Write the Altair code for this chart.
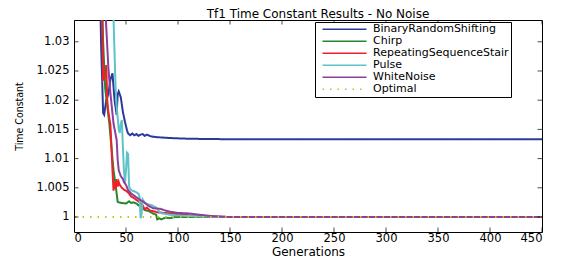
import altair as alt
import pandas as pd

series_names = ["BinaryRandomShifting", "Chirp", "RepeatingSequenceStair", "Pulse", "WhiteNoise", "Optimal"]
series_colors = ["#2b3a98", "#25882f", "#ec2228", "#5cc4c9", "#8c3f9c", "#c4c41e"]

brs_gen = [1, 24, 26, 28, 29, 31, 33, 35, 37, 39, 41, 42, 43, 45, 47, 49, 51, 52, 54, 56, 58, 60, 62, 64, 66, 68, 70, 74, 78, 85, 95, 110, 130, 160, 200, 260, 330, 400, 450]
brs_val = [1.2, 1.05, 1.03, 1.0178, 1.0175, 1.02, 1.021, 1.0235, 1.0246, 1.02, 1.0175, 1.021, 1.0215, 1.0205, 1.018, 1.0163, 1.0148, 1.0143, 1.014, 1.0143, 1.014, 1.0142, 1.0139, 1.0141, 1.0142, 1.0139, 1.0141, 1.0138, 1.0137, 1.0136, 1.0135, 1.0134, 1.01335, 1.0133, 1.0133, 1.0133, 1.0133, 1.0133, 1.0133]

chirp_gen = [1, 26, 28, 30, 32, 34, 36, 38, 40, 41, 42, 43, 46, 50, 53, 55, 57, 60, 62, 65, 68, 72, 76, 79, 80, 82, 84, 88, 92, 97, 110, 150, 450]
chirp_val = [1.3, 1.045, 1.03, 1.022, 1.019, 1.016, 1.012, 1.008, 1.0055, 1.004, 1.0026, 1.0025, 1.0024, 1.0023, 1.0027, 1.0024, 1.0025, 1.0023, 1.002, 1.0017, 1.0012, 1.001, 1.0006, 1.0004, 0.9996, 0.9998, 0.9996, 0.9999, 0.9998, 1.0, 1.0, 1.0, 1.0]

rss_gen = [1, 25, 27, 28, 30, 31, 32, 33, 35, 36, 37, 38, 39, 40, 41, 42, 43, 44, 46, 48, 50, 52, 55, 58, 61, 64, 66, 68, 70, 73, 76, 80, 86, 95, 110, 130, 150, 200, 300, 450]
rss_val = [1.3, 1.06, 1.035, 1.0235, 1.024, 1.026, 1.02, 1.018, 1.0158, 1.012, 1.008, 1.0045, 1.006, 1.0048, 1.0065, 1.0052, 1.006, 1.0055, 1.005, 1.0047, 1.0045, 1.0042, 1.0035, 1.0032, 1.0028, 1.0024, 1.002, 1.0013, 1.0016, 1.0011, 1.001, 1.0008, 1.0007, 1.0006, 1.0003, 1.0001, 1.0, 1.0, 1.0, 1.0]

pulse_gen = [1, 37, 38, 39, 40, 41, 42, 43, 44, 45, 46, 47, 48, 49, 50, 51, 52, 53, 54, 56, 58, 60, 62, 63, 64, 65, 66, 68, 71, 75, 79, 83, 88, 95, 105, 120, 150, 450]
pulse_val = [1.3, 1.05, 1.034, 1.028, 1.022, 1.019, 1.017, 1.015, 1.0144, 1.016, 1.0166, 1.012, 1.008, 1.0058, 1.008, 1.011, 1.0108, 1.0052, 1.0048, 1.0045, 1.0044, 1.0042, 1.004, 1.0035, 0.9998, 1.0005, 1.003, 1.0024, 1.0022, 1.002, 1.0016, 1.0007, 1.0005, 1.0003, 1.0002, 1.0001, 1.0, 1.0]

wn_gen = [1, 28, 30, 33, 35, 38, 41, 42, 43, 45, 47, 48, 50, 52, 55, 59, 63, 67, 71, 76, 83, 88, 92, 100, 111, 120, 130, 147, 450]
wn_val = [1.3, 1.05, 1.036, 1.0257, 1.0212, 1.016, 1.0132, 1.0098, 1.008, 1.007, 1.0065, 1.006, 1.0055, 1.0046, 1.004, 1.0035, 1.003, 1.0026, 1.002, 1.0015, 1.0014, 1.0011, 1.0009, 1.0007, 1.0006, 1.0004, 1.0002, 1.0, 1.0]

opt_gen = [1, 450]
opt_val = [1.0, 1.0]

x_ticks = [0, 50, 100, 150, 200, 250, 300, 350, 400, 450]
y_ticks = [1.0, 1.005, 1.01, 1.015, 1.02, 1.025, 1.03]
x_domain = [0, 450]
y_domain = [0.99743, 1.03373]

rows = []
for name, gens, vals in [
    ("BinaryRandomShifting", brs_gen, brs_val),
    ("Chirp", chirp_gen, chirp_val),
    ("RepeatingSequenceStair", rss_gen, rss_val),
    ("Pulse", pulse_gen, pulse_val),
    ("WhiteNoise", wn_gen, wn_val),
    ("Optimal", opt_gen, opt_val),
]:
    for i, (g, v) in enumerate(zip(gens, vals)):
        rows.append({"series": name, "gen": g, "val": v, "order": i})
df = pd.DataFrame(rows)

ytick_df = pd.DataFrame([{"gen": g, "val": v} for g in x_domain for v in y_ticks])
xtick_df = pd.DataFrame([{"gen": g, "val": v} for g in x_ticks for v in y_domain])

FONT = "DejaVu Sans"
xscale = alt.Scale(domain=x_domain, nice=False, zero=False)
yscale = alt.Scale(domain=y_domain, nice=False, zero=False)

lines = alt.Chart(df).mark_line(strokeWidth=2, clip=True).encode(
    x=alt.X("gen:Q", scale=xscale, axis=alt.Axis(
        title="Generations", values=x_ticks, orient="bottom", ticks=False, tickSize=0,
        labelPadding=0.5, domain=True, grid=False, titlePadding=2.5, titleFontSize=12)),
    y=alt.Y("val:Q", scale=yscale, axis=alt.Axis(
        title="Time Constant", values=y_ticks, orient="left", ticks=False, tickSize=0,
        labelPadding=5, domain=True, grid=False,
        titleFont="Liberation Sans Narrow, DejaVu Sans Condensed, sans-serif",
        titleFontSize=10.5, titleX=-55, titleY=96, titleBaseline="middle", titleAnchor="middle",
        labelExpr="datum.value == 1 ? '1' : format(datum.value, '.3~f')")),
    color=alt.Color("series:N", sort=series_names,
                    scale=alt.Scale(domain=series_names, range=series_colors),
                    legend=alt.Legend(title=None, orient="none", legendX=241, legendY=2,
                                      fillColor="white", strokeColor="black", padding=2,
                                      symbolType="M-11,0H11", symbolSize=16, symbolStrokeWidth=1.5,
                                      symbolOffset=22, labelOffset=23,
                                      labelFontSize=11, rowPadding=0, clipHeight=10.3,
                                      labelFont=FONT, labelColor="black")),
    strokeDash=alt.StrokeDash("series:N", sort=series_names,
                              scale=alt.Scale(domain=series_names,
                                              range=[[1, 0], [1, 0], [1, 0], [1, 0], [1, 0], [1.5, 6]]),
                              legend=None),
    order=alt.Order("order:Q"),
)

yticks = alt.Chart(ytick_df).mark_tick(orient="horizontal", size=9, thickness=1, color="black", clip=True).encode(
    x=alt.X("gen:Q", scale=xscale, axis=alt.Axis(
        title=None, orient="top", ticks=False, tickSize=0, labels=False, domain=True,
        grid=False, minExtent=0)),
    y=alt.Y("val:Q", scale=yscale, axis=alt.Axis(
        title=None, orient="right", ticks=False, tickSize=0, labels=False, domain=True,
        grid=False, minExtent=0)),
)

xticks = alt.Chart(xtick_df).mark_tick(orient="vertical", size=9, thickness=1, color="black", clip=True).encode(
    x=alt.X("gen:Q", scale=xscale, axis=None),
    y=alt.Y("val:Q", scale=yscale, axis=None),
)

chart = alt.layer(lines, yticks, xticks).resolve_axis(x="independent", y="independent").properties(
    width=468, height=212,
    autosize=alt.AutoSizeParams(type="none"),
    padding={"left": 66, "top": 12, "right": 13, "bottom": 30},
    title=alt.Title("Tf1 Time Constant Results - No Noise", fontSize=12, fontWeight="normal",
                    font=FONT, offset=0, anchor="middle", dx=10, dy=10, baseline="alphabetic",
                    color="black"),
).configure_view(strokeWidth=0).configure_axis(
    labelFont=FONT, titleFont=FONT, labelFontSize=11.5,
    titleFontWeight="normal", domainColor="black", domainWidth=1,
    labelColor="black", titleColor="black"
)

chart.save("out.html", embed_options={"renderer": "svg", "actions": False})
